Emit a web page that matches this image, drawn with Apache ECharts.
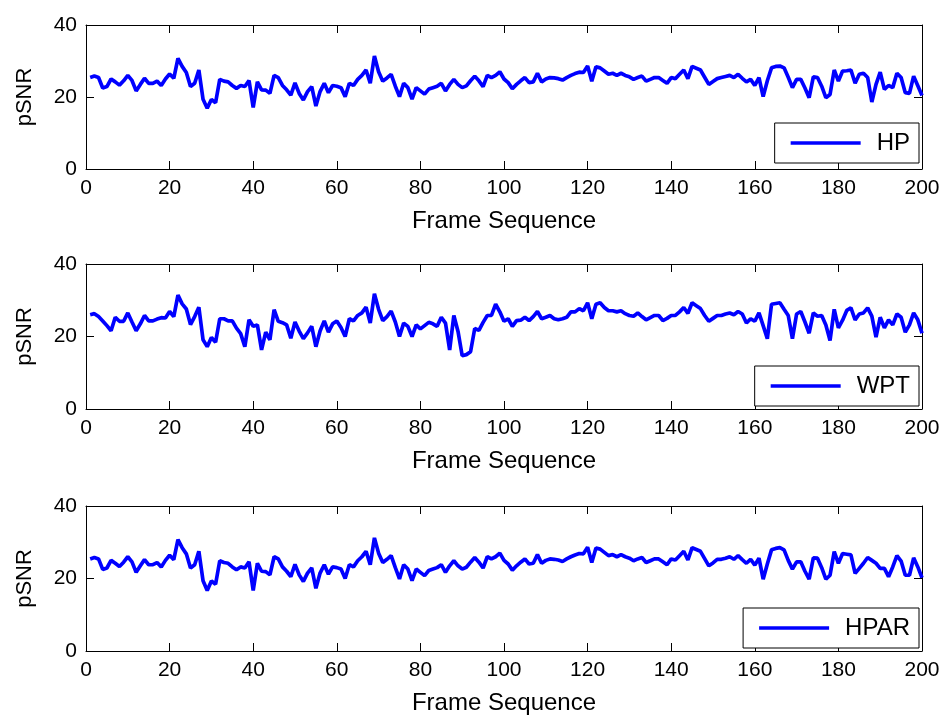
<!DOCTYPE html>
<html>
<head>
<meta charset="utf-8">
<script src="https://cdn.jsdelivr.net/npm/echarts@6/dist/echarts.min.js"></script>
<style>
  html, body { margin: 0; padding: 0; background: #fff; }
  #chart { width: 946px; height: 717px; }
</style>
</head>
<body>
<div id="chart"></div>
<script>
// pSNR per frame (frames 1..200) for the three methods
const hp = [
  25.4, 25.8, 25.4, 22.5, 22.9, 25.0, 24.2, 23.3, 24.5, 26.0,
  24.6, 21.7, 23.5, 25.2, 23.8, 23.8, 24.4, 23.2, 25.0, 26.4,
  25.2, 30.7, 28.5, 26.8, 22.9, 23.8, 27.5, 19.4, 16.9, 19.3,
  18.4, 24.9, 24.4, 24.2, 23.2, 22.4, 23.2, 22.9, 24.6, 17.1,
  24.2, 22.0, 21.9, 21.0, 26.0, 25.4, 23.2, 22.0, 20.5, 23.9,
  21.0, 19.2, 21.5, 22.9, 17.5, 21.5, 23.8, 21.2, 23.2, 23.0,
  22.6, 20.1, 23.8, 23.2, 24.9, 26.0, 27.5, 23.8, 31.4, 27.0,
  24.4, 25.3, 26.3, 23.0, 20.1, 23.8, 22.6, 19.4, 22.6, 21.7,
  20.8, 22.2, 22.6, 23.0, 23.8, 21.7, 23.5, 24.9, 23.5, 22.6,
  23.1, 24.5, 25.8, 24.5, 22.9, 26.0, 25.4, 26.0, 27.0, 25.0,
  24.0, 22.3, 23.5, 24.5, 25.4, 24.0, 24.2, 26.6, 24.2, 25.0,
  25.4, 25.3, 25.1, 24.7, 25.4, 26.0, 26.5, 26.9, 26.8, 28.6,
  24.4, 28.4, 28.1, 27.2, 26.3, 26.6, 26.0, 26.6, 26.0, 25.6,
  24.9, 25.4, 25.8, 24.4, 24.9, 25.4, 25.4, 24.6, 23.8, 25.4,
  25.1, 26.3, 27.5, 25.1, 28.5, 28.0, 27.5, 25.5, 23.5, 24.3,
  25.1, 25.4, 25.7, 26.0, 25.4, 26.3, 25.2, 24.2, 24.9, 23.2,
  25.4, 20.1, 24.5, 28.1, 28.5, 28.6, 28.1, 25.5, 22.6, 24.9,
  24.9, 22.5, 19.8, 25.6, 25.4, 23.0, 19.8, 20.7, 27.5, 24.4,
  27.2, 27.3, 27.5, 23.8, 26.3, 26.6, 25.4, 18.6, 23.5, 26.9,
  22.1, 23.2, 22.6, 26.6, 25.4, 21.2, 21.0, 25.8, 23.1, 20.4
];

const wpt = [
  26.0, 26.3, 25.5, 24.3, 23.0, 21.6, 25.3, 24.2, 24.2, 26.5,
  24.0, 21.6, 23.5, 25.8, 24.3, 24.3, 24.8, 25.2, 25.1, 26.9,
  25.5, 31.4, 29.0, 27.6, 23.3, 25.5, 28.1, 19.1, 17.2, 19.7,
  18.4, 24.9, 24.9, 24.3, 24.3, 22.3, 20.8, 17.2, 24.6, 22.8,
  23.2, 16.3, 21.2, 19.1, 27.4, 24.2, 23.8, 23.2, 19.5, 24.0,
  21.5, 19.4, 21.0, 22.8, 17.2, 21.5, 24.3, 21.2, 23.5, 24.3,
  22.5, 20.0, 24.9, 24.3, 25.8, 26.5, 28.1, 23.7, 31.8, 27.5,
  24.4, 25.5, 27.0, 24.0, 20.0, 23.7, 22.8, 20.0, 23.2, 22.1,
  23.0, 23.9, 23.5, 22.8, 25.3, 23.7, 16.3, 25.8, 21.4, 14.7,
  15.0, 15.8, 22.2, 21.7, 23.9, 25.8, 25.8, 28.9, 26.8, 24.2,
  24.9, 22.8, 24.4, 24.5, 25.3, 24.4, 25.5, 26.9, 24.9, 25.3,
  25.8, 24.9, 24.6, 24.9, 25.3, 26.8, 26.8, 27.7, 27.1, 29.3,
  24.9, 28.9, 29.3, 28.0, 27.1, 27.1, 26.8, 27.1, 26.3, 25.8,
  25.6, 26.5, 25.5, 24.6, 25.2, 25.8, 25.8, 24.4, 25.0, 25.8,
  25.8, 26.8, 28.0, 26.4, 29.3, 28.5, 27.7, 25.8, 24.2, 25.0,
  25.8, 25.8, 26.2, 26.5, 26.0, 26.9, 26.2, 23.7, 24.9, 24.2,
  26.5, 23.0, 19.4, 28.9, 29.1, 29.3, 27.5, 25.8, 19.4, 26.2,
  26.9, 24.0, 20.9, 26.5, 25.6, 25.8, 23.2, 18.9, 27.5, 22.4,
  24.5, 27.2, 27.9, 24.6, 26.2, 26.5, 27.9, 25.6, 19.8, 25.3,
  22.4, 24.6, 23.2, 26.2, 25.3, 21.2, 23.2, 26.5, 24.6, 20.9
];

const hpar = [
  25.4, 25.8, 25.4, 22.5, 22.9, 25.0, 24.2, 23.3, 24.5, 26.0,
  24.6, 21.7, 23.5, 25.2, 23.8, 23.8, 24.4, 23.2, 25.0, 26.4,
  25.2, 30.7, 28.5, 26.8, 22.9, 23.8, 27.5, 19.4, 16.7, 19.3,
  18.4, 24.9, 24.4, 24.2, 23.2, 22.4, 23.2, 22.9, 24.6, 16.7,
  24.2, 22.0, 21.9, 21.0, 26.0, 25.4, 23.2, 22.0, 20.5, 23.9,
  21.0, 19.2, 21.5, 22.9, 17.3, 21.5, 23.8, 21.2, 23.2, 23.0,
  22.6, 20.0, 23.8, 23.2, 24.9, 26.0, 27.5, 23.8, 31.2, 27.0,
  24.4, 25.3, 26.3, 23.0, 19.9, 23.8, 22.6, 19.4, 22.6, 21.7,
  20.8, 22.2, 22.6, 23.0, 23.8, 21.7, 23.5, 24.9, 23.5, 22.6,
  23.1, 24.5, 25.8, 24.5, 22.9, 26.0, 25.4, 26.0, 27.0, 25.0,
  24.0, 22.3, 23.5, 24.5, 25.4, 24.0, 24.2, 26.6, 24.2, 25.0,
  25.4, 25.3, 25.1, 24.7, 25.4, 26.0, 26.5, 26.9, 26.8, 28.6,
  24.4, 28.4, 28.1, 27.2, 26.3, 26.6, 26.0, 26.6, 26.0, 25.6,
  24.9, 25.4, 25.8, 24.4, 24.9, 25.4, 25.4, 24.6, 23.8, 25.4,
  25.1, 26.3, 27.5, 25.1, 28.5, 28.0, 27.5, 25.5, 23.5, 24.3,
  25.3, 25.3, 25.6, 26.0, 25.3, 26.3, 25.2, 24.2, 25.3, 23.7,
  25.6, 19.8, 24.0, 27.9, 28.3, 28.5, 27.9, 25.0, 22.6, 24.6,
  24.6, 22.0, 19.8, 25.7, 25.6, 23.0, 19.8, 20.9, 27.4, 24.2,
  26.9, 26.7, 26.5, 21.4, 22.8, 24.2, 25.8, 25.0, 24.2, 22.8,
  22.8, 20.5, 23.2, 26.3, 24.8, 20.9, 20.9, 25.7, 23.2, 20.2
];

const seriesNames = ['HP', 'WPT', 'HPAR'];
const seriesValues = [hp, wpt, hpar];

const xMin = 0, xMax = 200, xStep = 20;
const yMin = 0, yMax = 40, yStep = 20;
const xTitle = 'Frame Sequence';
const yTitle = 'pSNR';

const FONT = 'Liberation Sans, Arial, Helvetica, sans-serif';
const BLUE = '#0000ff';

// panel geometry (pixels)
const panels = [
  { top: 25,  height: 144, legendTop: 123 },
  { top: 264, height: 145, legendTop: 366 },
  { top: 506, height: 145, legendTop: 608 }
];

const chart = echarts.init(document.getElementById('chart'), null, { renderer: 'canvas' });

const grid = [], xAxis = [], yAxis = [], series = [], legend = [];

const tickStyle = { show: true, inside: true, length: 8, lineStyle: { color: '#000', width: 1 } };
const lineStyleAxis = { show: true, onZero: false, lineStyle: { color: '#000', width: 1 } };
const labelStyle = { color: '#000', fontSize: 21, fontFamily: FONT, margin: 9 };

panels.forEach((p, i) => {
  grid.push({ left: 86, top: p.top, width: 836, height: p.height, containLabel: false });

  // bottom axis with labels, plus a mirrored top axis for the box ticks
  xAxis.push({
    type: 'value', gridIndex: i, position: 'bottom', min: xMin, max: xMax, interval: xStep,
    axisLine: lineStyleAxis, axisTick: tickStyle, axisLabel: labelStyle,
    splitLine: { show: false },
    name: xTitle, nameLocation: 'middle', nameGap: 40,
    nameTextStyle: { color: '#000', fontSize: 24, fontFamily: FONT }
  });
  xAxis.push({
    type: 'value', gridIndex: i, position: 'top', min: xMin, max: xMax, interval: xStep,
    axisLine: lineStyleAxis, axisTick: tickStyle, axisLabel: { show: false },
    splitLine: { show: false }
  });

  yAxis.push({
    type: 'value', gridIndex: i, position: 'left', min: yMin, max: yMax, interval: yStep,
    axisLine: lineStyleAxis, axisTick: tickStyle, axisLabel: labelStyle,
    splitLine: { show: false },
    name: yTitle, nameLocation: 'middle', nameGap: 50, nameRotate: 90,
    nameTextStyle: { color: '#000', fontSize: 22, fontFamily: FONT }
  });
  yAxis.push({
    type: 'value', gridIndex: i, position: 'right', min: yMin, max: yMax, interval: yStep,
    axisLine: lineStyleAxis, axisTick: tickStyle, axisLabel: { show: false },
    splitLine: { show: false }
  });

  const values = seriesValues[i];
  series.push({
    name: seriesNames[i],
    type: 'line',
    xAxisIndex: 2 * i,
    yAxisIndex: 2 * i,
    data: values.map((v, k) => [k + 1, v]),
    symbol: 'none',
    showSymbol: false,
    lineStyle: { color: BLUE, width: 3.7 },
    itemStyle: { color: BLUE },
    animation: false
  });

  // boxed legend with a plain line sample
  legend.push({
    data: [seriesNames[i]],
    right: 27,
    top: p.legendTop,
    icon: 'rect',
    itemWidth: 70,
    itemHeight: 3.5,
    padding: [8, 9, 8, 16],
    borderColor: '#000',
    borderWidth: 1,
    borderRadius: 0,
    backgroundColor: '#fff',
    selectedMode: false,
    itemStyle: { color: BLUE },
    textStyle: { color: '#000', fontSize: 24, fontFamily: FONT, padding: [0, 0, 0, 11] }
  });
});

chart.setOption({
  animation: false,
  backgroundColor: '#fff',
  grid, xAxis, yAxis, series, legend
});
</script>
</body>
</html>
